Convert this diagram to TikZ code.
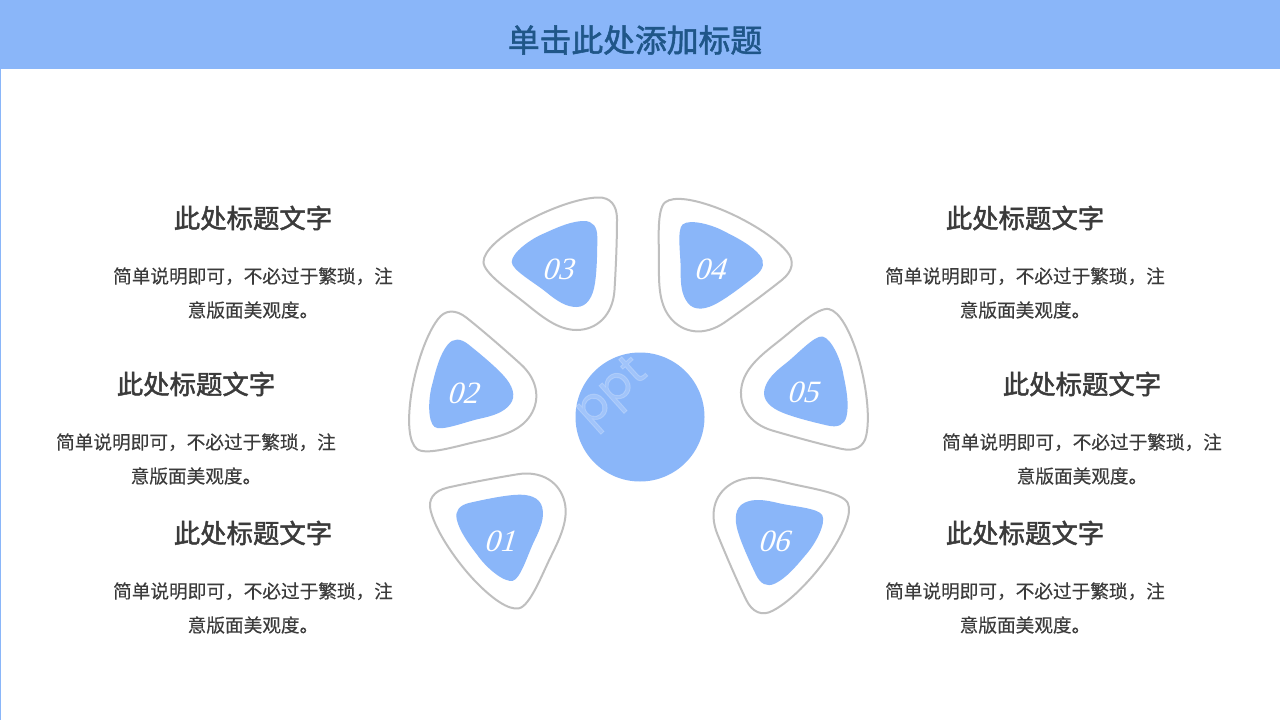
\documentclass[tikz,border=0pt]{standalone}
\usepackage{fontspec}
\newfontfamily\cjk[FakeBold=0.25]{Noto Sans CJK SC}
\newfontfamily\cjkmed[FakeBold=1.7]{Noto Sans CJK SC}
\newfontfamily\numfont[FakeSlant=0.3]{Liberation Serif}
\newfontfamily\markfont[FakeBold=2]{Poppins}
\definecolor{hdr}{HTML}{8AB6F9}
\definecolor{ttl}{HTML}{1F5688}
\definecolor{txt}{HTML}{3B3B3B}
\definecolor{ring}{HTML}{BFBFBF}
\tikzset{
  titletext/.style={inner sep=0pt,text=ttl,font=\cjkmed\fontsize{31.8}{36}\selectfont},
  headtext/.style={inner sep=0pt,text=txt,font=\cjkmed\fontsize{26.4}{30}\selectfont},
  bodytext/.style={inner sep=0pt,text=txt,align=center,font=\cjk\fontsize{18.65}{34}\selectfont},
  numtext/.style={inner sep=0pt,text=white,font=\numfont\fontsize{31}{34}\selectfont},
  marktext/.style={inner sep=0pt,text=white,text opacity=0.2,rotate=42,font=\markfont\fontsize{46}{50}\selectfont},
  petalring/.style={draw=ring,line width=2pt,fill=white},
  petalfill/.style={fill=hdr},
}
\newcommand\petalshape[3]{%
  \begin{scope}[shift={(#1,#2)},rotate=#3]
    \draw[petalring] (-76.5,-3)
      .. controls (-76.5,-14) and (-60,-28) .. (-40,-40)
      .. controls (-20,-52) and (15,-67) .. (38,-67.5)
      .. controls (50,-68) and (57,-60) .. (57,-46)
      .. controls (57,-25) and (56,0) .. (54.5,25)
      .. controls (53,50) and (37,65) .. (16.5,65)
      .. controls (-3,65) and (-20,50) .. (-35,38)
      .. controls (-50,26) and (-76.5,8) .. (-76.5,-3) -- cycle;
    \fill[petalfill] (-48.3,-3)
      .. controls (-48.3,-12) and (-30,-26) .. (-15,-32)
      .. controls (-2,-38) and (12,-44) .. (24,-44)
      .. controls (33,-44) and (37.3,-38) .. (37.3,-28)
      .. controls (37.3,-15) and (37,5) .. (35,18)
      .. controls (33,32) and (27,42) .. (16.5,42)
      .. controls (6,42) and (-3,36) .. (-14,27)
      .. controls (-25,18) and (-48.3,5) .. (-48.3,-3) -- cycle;
  \end{scope}}
\begin{document}
\begin{tikzpicture}[x=1pt,y=-1pt]
\useasboundingbox (0,0) rectangle (1280,720);
\fill[white] (0,0) rectangle (1280,720);
\fill[hdr] (0,0) rectangle (1280,69);
\fill[hdr] (0,69) rectangle (1,720);
\node[titletext] (title) at (635,40) {单击此处添加标题};
\petalshape{560}{265}{0}
\petalshape{467}{391}{51.43}
\petalshape{505}{533}{102.86}
\petalshape{710.5}{264}{-51.43}
\petalshape{809}{383}{-102.86}
\petalshape{777.5}{533.5}{-154.29}
\fill[hdr] (640,417) circle[radius=64.5];
\node[marktext] (wm) at (613,394) {ppt};
\node[numtext] (n1) at (499,541.5) {01};
\node[numtext] (n2) at (462,393.5) {02};
\node[numtext] (n3) at (557,269) {03};
\node[numtext] (n4) at (709,269) {04};
\node[numtext] (n5) at (802,392.5) {05};
\node[numtext] (n6) at (773,541.5) {06};
\node[headtext] (h3) at (253,218) {此处标题文字};
\node[bodytext] (b3) at (253,293) {简单说明即可，不必过于繁琐，注\\意版面美观度。};
\node[headtext] (h2) at (196,384) {此处标题文字};
\node[bodytext] (b2) at (196,459) {简单说明即可，不必过于繁琐，注\\意版面美观度。};
\node[headtext] (h1) at (253,533) {此处标题文字};
\node[bodytext] (b1) at (253,608) {简单说明即可，不必过于繁琐，注\\意版面美观度。};
\node[headtext] (h4) at (1025,218) {此处标题文字};
\node[bodytext] (b4) at (1025,293) {简单说明即可，不必过于繁琐，注\\意版面美观度。};
\node[headtext] (h5) at (1082,384) {此处标题文字};
\node[bodytext] (b5) at (1082,459) {简单说明即可，不必过于繁琐，注\\意版面美观度。};
\node[headtext] (h6) at (1025,533) {此处标题文字};
\node[bodytext] (b6) at (1025,608) {简单说明即可，不必过于繁琐，注\\意版面美观度。};
\end{tikzpicture}
\end{document}
